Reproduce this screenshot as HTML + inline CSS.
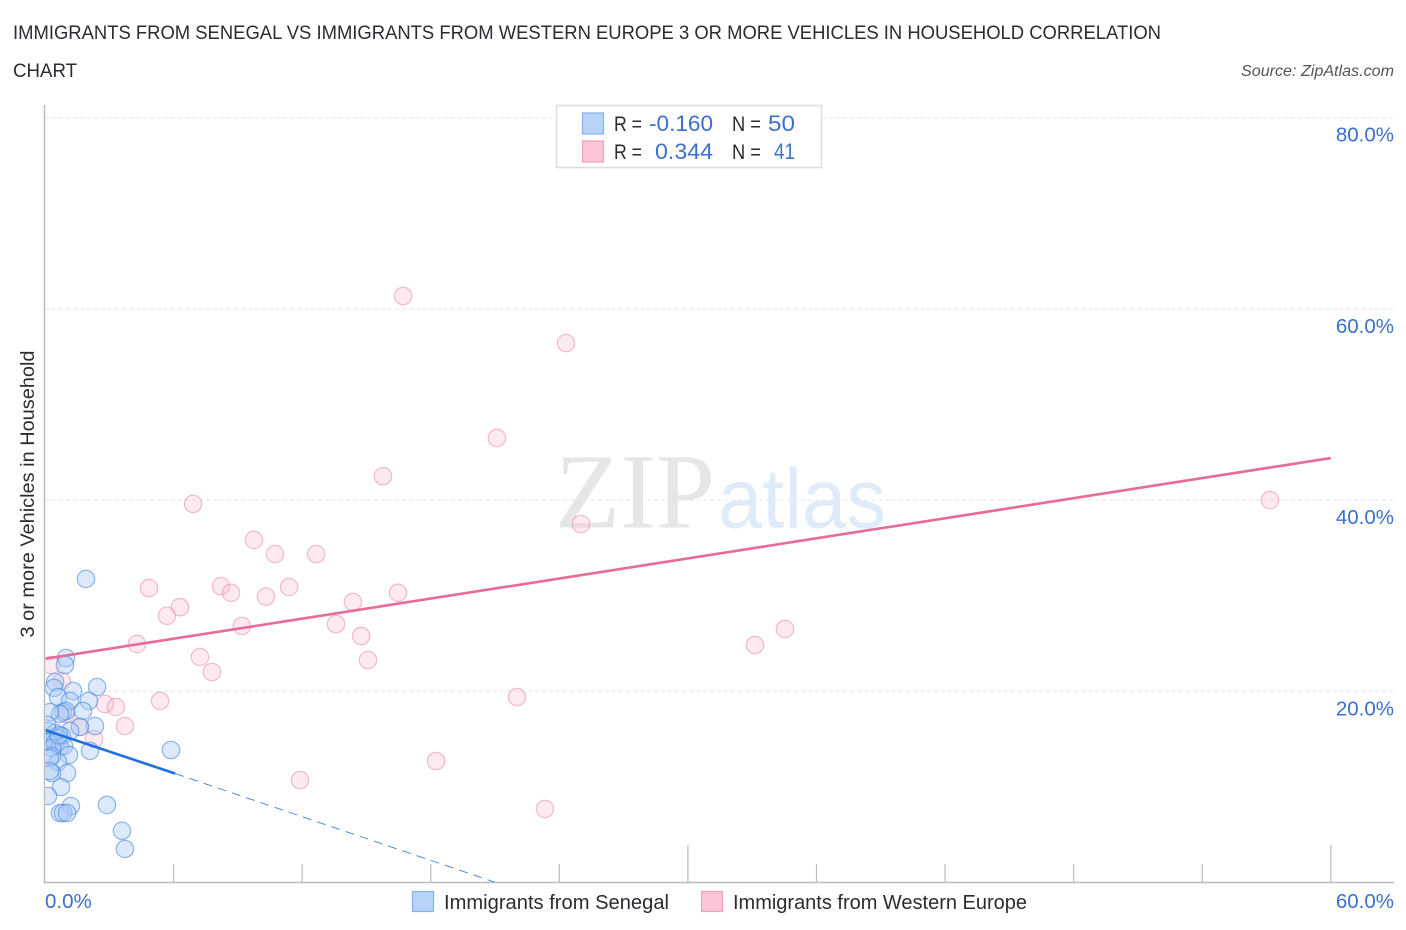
<!DOCTYPE html>
<html lang="en">
<head>
<meta charset="utf-8">
<title>Immigrants from Senegal vs Immigrants from Western Europe 3 or More Vehicles in Household Correlation Chart</title>
<style>
html,body{margin:0;padding:0;background:#fff;width:1406px;height:930px;overflow:hidden}
svg{display:block;font-family:"Liberation Sans",sans-serif}
</style>
</head>
<body>
<svg id="chart" xmlns="http://www.w3.org/2000/svg" width="1406" height="930" viewBox="0 0 1406 930">
  <defs><clipPath id="plot-clip"><rect x="45.5" y="100" width="1350" height="782"/></clipPath></defs>
  <text x="13" y="39" font-size="19.5" fill="#2b2b33" textLength="1148" lengthAdjust="spacingAndGlyphs">IMMIGRANTS FROM SENEGAL VS IMMIGRANTS FROM WESTERN EUROPE 3 OR MORE VEHICLES IN HOUSEHOLD CORRELATION</text>
  <text x="13" y="77" font-size="19.5" fill="#2b2b33" textLength="64" lengthAdjust="spacingAndGlyphs">CHART</text>
  <text x="1394" y="76" font-size="15.5" font-style="italic" fill="#555" text-anchor="end" textLength="153" lengthAdjust="spacingAndGlyphs">Source: ZipAtlas.com</text>

  <g>
    <text x="555" y="527.5" font-family="'Liberation Serif',serif" font-size="107" fill="#e6e6e6" textLength="160" lengthAdjust="spacingAndGlyphs">ZIP</text>
    <text x="718" y="527.5" font-size="84" fill="#e0ebfa" textLength="168" lengthAdjust="spacingAndGlyphs">atlas</text>
  </g>

  <g id="grid"></g>
  <g id="axes"></g>
  <g id="points" clip-path="url(#plot-clip)"></g>
  <g id="trends" clip-path="url(#plot-clip)"></g>
  <g id="tick-labels"></g>

  <text transform="translate(34,494) rotate(-90)" font-size="19" fill="#2b2b33" text-anchor="middle" textLength="287" lengthAdjust="spacingAndGlyphs">3 or more Vehicles in Household</text>

  <g>
    <rect x="556.5" y="105.5" width="265" height="62" fill="#fff" stroke="#dedede" stroke-width="1.5"/>
    <rect x="582.5" y="113" width="21" height="21" fill="#b9d3f8" stroke="#86b0ec" stroke-width="1.2"/>
    <rect x="582.5" y="141" width="21" height="21" fill="#fcc5d6" stroke="#f2a0ba" stroke-width="1.2"/>
    <g font-size="21" fill="#2b2b33">
      <text x="614" y="131" textLength="28" lengthAdjust="spacingAndGlyphs">R =</text>
      <text x="732" y="131" textLength="29" lengthAdjust="spacingAndGlyphs">N =</text>
      <text x="614" y="159" textLength="28" lengthAdjust="spacingAndGlyphs">R =</text>
      <text x="732" y="159" textLength="29" lengthAdjust="spacingAndGlyphs">N =</text>
    </g>
    <g font-size="22" fill="#3b6fd0">
      <text x="649" y="131" textLength="64" lengthAdjust="spacingAndGlyphs">-0.160</text>
      <text x="768" y="131" textLength="27" lengthAdjust="spacingAndGlyphs">50</text>
      <text x="655" y="159" textLength="58" lengthAdjust="spacingAndGlyphs">0.344</text>
      <text x="774" y="159" textLength="21" lengthAdjust="spacingAndGlyphs">41</text>
    </g>
  </g>

  <g>
    <rect x="412.5" y="891.5" width="21" height="20" fill="#b9d3f8" stroke="#86b0ec" stroke-width="1.2"/>
    <text x="444" y="909" font-size="20" fill="#2b2b33" textLength="225" lengthAdjust="spacingAndGlyphs">Immigrants from Senegal</text>
    <rect x="701.5" y="891.5" width="21" height="20" fill="#fcc5d6" stroke="#f2a0ba" stroke-width="1.2"/>
    <text x="733" y="909" font-size="20" fill="#2b2b33" textLength="294" lengthAdjust="spacingAndGlyphs">Immigrants from Western Europe</text>
  </g>
</svg>
<script>
const senegalX = [1.91,0.98,0.93,0.47,0.42,2.43,1.31,0.61,2.05,1.17,0.84,0.98,0.70,1.77,0.23,2.33,1.63,1.17,0.14,0.47,0.79,0.09,0.33,0.61,0.23,0.14,0.47,0.70,0.89,0.33,2.10,1.12,5.88,0.33,0.61,0.23,1.03,0.33,0.23,0.75,0.14,2.89,1.21,0.70,0.84,1.03,3.59,3.73,0.09,0.65];
const senegalY = [31.75,23.48,22.75,20.97,20.35,20.45,20.03,19.40,18.99,18.99,17.83,17.94,17.63,17.94,17.83,16.37,16.27,15.85,15.85,15.64,15.32,15.11,14.90,15.11,14.80,14.70,14.59,14.17,14.28,14.07,13.76,13.34,13.86,13.23,12.60,13.02,11.45,11.45,11.66,9.99,9.05,8.11,8.00,7.27,7.27,7.27,5.41,3.51,16.50,15.40];
const europeX = [16.71,24.31,21.09,15.77,6.91,57.16,25.01,9.75,10.73,12.65,4.85,8.21,8.68,11.39,10.31,16.47,6.30,5.69,14.37,9.19,13.58,14.75,4.29,7.23,15.07,7.79,33.13,34.53,22.02,5.37,2.80,3.31,3.73,18.25,11.90,23.33,0.28,0.79,0.98,1.63,2.29];
const europeY = [61.35,56.43,46.50,42.50,39.60,40.00,37.50,35.83,34.36,34.36,30.80,31.00,30.30,30.90,29.90,30.30,28.80,27.90,29.34,26.83,27.04,25.78,24.95,23.59,23.27,22.02,24.84,26.52,19.40,18.99,18.67,18.36,16.37,12.71,10.72,7.69,22.75,21.08,17.63,16.27,15.01];
const senegalTrendX = [0, 6.07];
const senegalTrendY = [15.95, 11.4];
const senegalDashX = [6.07, 21.04];
const senegalDashY = [11.4, 0];
const europeTrendX = [0, 60];
const europeTrendY = [23.4, 44.4];
const xTicks = [0,6,12,18,24,30,36,42,48,54,60];
const xTallTicks = [30,60];
const xTickLabels = ["0.0%","60.0%"];
const xLabelValues = [0,60];
const yTicks = [20,40,60,80];
const yTickLabels = ["20.0%","40.0%","60.0%","80.0%"];

const SVG_NS = "http://www.w3.org/2000/svg";
function xScale(v){ return 45 + v * 21.43; }
function yScale(v){ return 882.5 - v * 9.56; }
function make(tag, attrs, parent){
  const el = document.createElementNS(SVG_NS, tag);
  for (const k in attrs) el.setAttribute(k, attrs[k]);
  parent.appendChild(el);
  return el;
}
const gridG = document.getElementById("grid");
const axesG = document.getElementById("axes");
const pointsG = document.getElementById("points");
const trendsG = document.getElementById("trends");
const labelsG = document.getElementById("tick-labels");

yTicks.forEach(function(v, i){
  const line = make("line", {x1:45, x2:1394, y1:yScale(v), y2:yScale(v), stroke:"#e6e6e6", "stroke-width":1, "stroke-dasharray":"4 3"}, gridG);
  
  
  const label = make("text", {x:1394, y:yScale(v) + 24, "font-size":20.5, fill:"#3b6fd0", "text-anchor":"end"}, labelsG);
  label.textContent = yTickLabels[i];
  
  
});

const yAxis = make("line", {x1:44.5, x2:44.5, y1:105, y2:883.5, stroke:"#bbb", "stroke-width":1.5}, axesG);


const xAxis = make("line", {x1:44, x2:1394, y1:882.5, y2:882.5, stroke:"#bbb", "stroke-width":1.5}, axesG);


xTicks.forEach(function(v){
  if (v === 0) return;
  const top = xTallTicks.indexOf(v) >= 0 ? 845 : 864;
  const tick = make("line", {x1:xScale(v), x2:xScale(v), y1:top, y2:882, stroke:"#bbb", "stroke-width":1.2}, axesG);
  
  
});
xLabelValues.forEach(function(v, i){
  const attrs = i === 0
    ? {x:xScale(v), y:908, "font-size":20.5, fill:"#3b6fd0"}
    : {x:1394, y:908, "font-size":20.5, fill:"#3b6fd0", "text-anchor":"end"};
  const label = make("text", attrs, labelsG);
  label.textContent = xTickLabels[i];
  
  
});

europeX.forEach(function(v, i){
  const c = make("circle", {cx:xScale(v), cy:yScale(europeY[i]), r:8.7, fill:"#f9b9cd", "fill-opacity":0.3, stroke:"#ea8fae", "stroke-opacity":0.6, "stroke-width":1.2}, pointsG);
  
  
});
senegalX.forEach(function(v, i){
  const c = make("circle", {cx:xScale(v), cy:yScale(senegalY[i]), r:8.7, fill:"#a9caf5", "fill-opacity":0.42, stroke:"#4f8be0", "stroke-opacity":0.62, "stroke-width":1.2}, pointsG);
  
  
});

const dash = make("line", {x1:xScale(senegalDashX[0]), y1:yScale(senegalDashY[0]), x2:xScale(senegalDashX[1]), y2:yScale(senegalDashY[1]), stroke:"#3f80dc", "stroke-width":0.9, "stroke-dasharray":"9 6"}, trendsG);


const blueTrend = make("line", {x1:xScale(senegalTrendX[0]), y1:yScale(senegalTrendY[0]), x2:xScale(senegalTrendX[1]), y2:yScale(senegalTrendY[1]), stroke:"#1f6fdc", "stroke-width":2.6}, trendsG);


const pinkTrend = make("line", {x1:xScale(europeTrendX[0]), y1:yScale(europeTrendY[0]), x2:xScale(europeTrendX[1]), y2:yScale(europeTrendY[1]), stroke:"#e96a98", "stroke-width":2.6}, trendsG);


</script>
</body>
</html>
